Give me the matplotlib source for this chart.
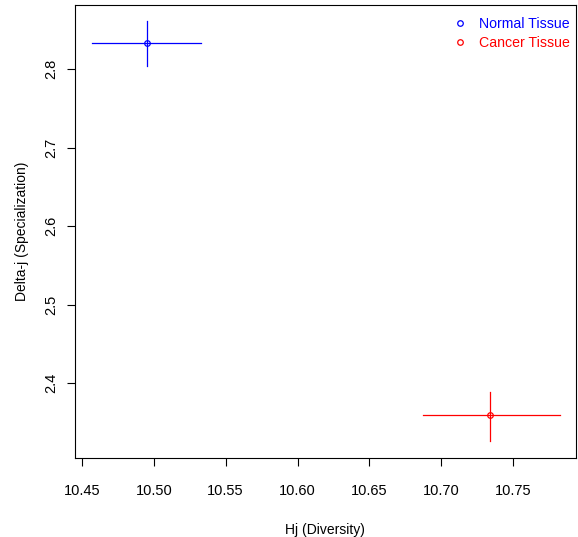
import matplotlib
matplotlib.use("Agg")
import matplotlib.pyplot as plt
from matplotlib.lines import Line2D

# data
groups = ["Normal Tissue", "Cancer Tissue"]
colors = ["#0000FF", "#FF0000"]
hj = [10.4953, 10.734]
hj_lo = [10.457, 10.687]
hj_hi = [10.533, 10.7826]
delta = [2.8335, 2.3596]
delta_lo = [2.804, 2.327]
delta_hi = [2.861, 2.389]

xticks = [10.45, 10.50, 10.55, 10.60, 10.65, 10.70, 10.75]
yticks = [2.4, 2.5, 2.6, 2.7, 2.8]

plt.rcParams["font.family"] = ["Liberation Sans", "DejaVu Sans"]
plt.rcParams["font.size"] = 10

fig = plt.figure(figsize=(5.78, 5.37), dpi=100)
ax = fig.add_axes([0.129, 0.147, 0.868, 0.843])

for i in range(len(groups)):
    ax.plot([hj_lo[i], hj_hi[i]], [delta[i], delta[i]], color=colors[i], lw=0.9)
    ax.plot([hj[i], hj[i]], [delta_lo[i], delta_hi[i]], color=colors[i], lw=0.9)
    ax.plot(hj[i], delta[i], marker="o", ms=4, mfc="none", mec=colors[i], mew=0.9,
            linestyle="none")

ax.set_xlim(10.4449, 10.7939)
ax.set_ylim(2.3048, 2.881)
ax.set_xticks(xticks)
ax.set_xticklabels([f"{t:.2f}" for t in xticks], fontsize=10.5)
ax.set_yticks(yticks)
ax.set_yticklabels([f"{t:.1f}" for t in yticks], rotation=90, va="center", fontsize=10.5)
ax.tick_params(direction="out", length=6, width=0.8)
ax.tick_params(axis="x", pad=13)
ax.tick_params(axis="y", pad=6)
for sp in ax.spines.values():
    sp.set_linewidth(0.8)

ax.set_xlabel("Hj (Diversity)", labelpad=18)
ax.set_ylabel("Delta-j (Specialization)", labelpad=11)

handles = [Line2D([], [], marker="o", ms=4, mfc="none", mec=c, mew=0.9, linestyle="none")
           for c in colors]
ax.legend(handles, groups, loc="upper right", frameon=False, labelcolor=colors,
          handletextpad=0.55, handlelength=1.6, borderaxespad=0.2, borderpad=0.6,
          labelspacing=0.35, fontsize=10.2, bbox_to_anchor=(1.01, 1.0))

fig.savefig("out.png", dpi=100)
